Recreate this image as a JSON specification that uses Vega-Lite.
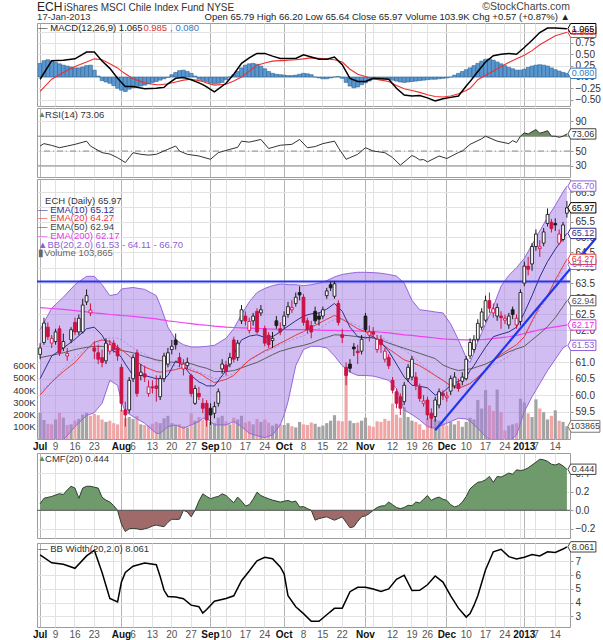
{
"$schema":"https://vega.github.io/schema/vega-lite/v6.json",
"background":"white",
"padding":{"left":12,"top":0,"right":0,"bottom":0},
"config":{"view":{"stroke":"#9c9c9c"},"font":"Liberation Sans","axis":{"labelFont":"Liberation Sans","labelFontSize":10,"labelColor":"#333333","gridColor":"#e2e2e2","domain":false,"labelOverlap":false},"text":{"font":"Liberation Sans"}},
"datasets":{
"px":[
{"d":"2012-07-02","o":61.25,"h":61.6,"l":61.1,"c":61.45,"v":215,"mh":0.3},
{"d":"2012-07-03","o":61.62,"h":62.4,"l":61.55,"c":62.23,"v":155,"mh":0.36},
{"d":"2012-07-05","o":62.1,"h":62.25,"l":61.7,"c":61.8,"v":125,"mh":0.38},
{"d":"2012-07-06","o":61.6,"h":61.85,"l":61.45,"c":61.75,"v":120,"mh":0.35},
{"d":"2012-07-09","o":61.65,"h":62.05,"l":61.55,"c":61.95,"v":160,"mh":0.32},
{"d":"2012-07-10","o":62.05,"h":62.15,"l":61.2,"c":61.3,"v":215,"mh":0.29},
{"d":"2012-07-11","o":61.45,"h":61.9,"l":61.35,"c":61.65,"v":175,"mh":0.26},
{"d":"2012-07-12","o":61.2,"h":61.45,"l":61.05,"c":61.28,"v":115,"mh":0.24},
{"d":"2012-07-13","o":61.7,"h":62.1,"l":61.6,"c":62.02,"v":120,"mh":0.22},
{"d":"2012-07-16","o":62.25,"h":62.4,"l":61.85,"c":61.95,"v":150,"mh":0.2},
{"d":"2012-07-17","o":61.95,"h":62.5,"l":61.85,"c":62.38,"v":165,"mh":0.2},
{"d":"2012-07-18","o":61.95,"h":63.0,"l":61.9,"c":62.8,"v":200,"mh":0.22},
{"d":"2012-07-19","o":62.9,"h":63.3,"l":62.8,"c":63.1,"v":215,"mh":0.25},
{"d":"2012-07-20","o":62.55,"h":62.85,"l":62.45,"c":62.64,"v":190,"mh":0.26},
{"d":"2012-07-23","o":61.45,"h":61.65,"l":61.1,"c":61.35,"v":205,"mh":0.15},
{"d":"2012-07-24","o":61.3,"h":61.55,"l":60.95,"c":61.1,"v":195,"mh":0.02},
{"d":"2012-07-25","o":61.15,"h":61.4,"l":60.85,"c":61.0,"v":160,"mh":-0.08},
{"d":"2012-07-26","o":61.05,"h":61.75,"l":60.95,"c":61.6,"v":140,"mh":-0.11},
{"d":"2012-07-27","o":61.35,"h":61.7,"l":61.25,"c":61.55,"v":150,"mh":-0.14},
{"d":"2012-07-30","o":61.6,"h":61.7,"l":61.3,"c":61.4,"v":130,"mh":-0.19},
{"d":"2012-07-31","o":61.45,"h":61.55,"l":61.05,"c":61.2,"v":120,"mh":-0.25},
{"d":"2012-08-01","o":60.85,"h":60.95,"l":59.5,"c":59.75,"v":240,"mh":-0.29},
{"d":"2012-08-02","o":59.55,"h":59.8,"l":59.05,"c":59.4,"v":170,"mh":-0.32},
{"d":"2012-08-03","o":59.55,"h":60.55,"l":59.45,"c":60.45,"v":180,"mh":-0.27},
{"d":"2012-08-06","o":60.5,"h":61.25,"l":60.4,"c":61.15,"v":165,"mh":-0.24},
{"d":"2012-08-07","o":61.3,"h":61.4,"l":59.95,"c":60.05,"v":190,"mh":-0.21},
{"d":"2012-08-08","o":60.6,"h":60.95,"l":60.45,"c":60.7,"v":120,"mh":-0.2},
{"d":"2012-08-09","o":60.65,"h":60.9,"l":60.4,"c":60.55,"v":115,"mh":-0.18},
{"d":"2012-08-10","o":60.05,"h":60.45,"l":59.95,"c":60.25,"v":110,"mh":-0.15},
{"d":"2012-08-13","o":60.25,"h":60.45,"l":60.05,"c":60.22,"v":125,"mh":-0.12},
{"d":"2012-08-14","o":60.28,"h":60.6,"l":59.8,"c":60.2,"v":140,"mh":-0.1},
{"d":"2012-08-15","o":59.95,"h":60.6,"l":59.85,"c":60.5,"v":130,"mh":-0.07},
{"d":"2012-08-16","o":60.5,"h":61.3,"l":60.4,"c":61.2,"v":170,"mh":-0.04},
{"d":"2012-08-17","o":60.95,"h":61.45,"l":60.85,"c":61.3,"v":190,"mh":-0.01},
{"d":"2012-08-20","o":61.4,"h":61.7,"l":61.25,"c":61.5,"v":130,"mh":0.05},
{"d":"2012-08-21","o":61.7,"h":61.9,"l":61.4,"c":61.55,"v":115,"mh":0.1},
{"d":"2012-08-22","o":61.15,"h":61.3,"l":60.85,"c":61.0,"v":120,"mh":0.14},
{"d":"2012-08-23","o":60.8,"h":61.1,"l":60.6,"c":60.95,"v":105,"mh":0.15},
{"d":"2012-08-24","o":60.9,"h":61.15,"l":60.8,"c":61.0,"v":95,"mh":0.12},
{"d":"2012-08-27","o":60.6,"h":60.65,"l":59.95,"c":60.05,"v":210,"mh":0.08},
{"d":"2012-08-28","o":59.75,"h":60.3,"l":59.7,"c":60.2,"v":150,"mh":0.02},
{"d":"2012-08-29","o":60.05,"h":60.25,"l":59.85,"c":59.95,"v":180,"mh":-0.05},
{"d":"2012-08-30","o":59.75,"h":59.9,"l":59.45,"c":59.6,"v":160,"mh":-0.08},
{"d":"2012-08-31","o":59.75,"h":59.85,"l":59.05,"c":59.25,"v":175,"mh":-0.1},
{"d":"2012-09-04","o":59.6,"h":59.75,"l":59.1,"c":59.4,"v":140,"mh":-0.13},
{"d":"2012-09-05","o":59.45,"h":59.8,"l":59.3,"c":59.65,"v":130,"mh":-0.15},
{"d":"2012-09-06","o":59.75,"h":60.2,"l":59.65,"c":60.1,"v":175,"mh":-0.14},
{"d":"2012-09-07","o":60.8,"h":61.1,"l":60.65,"c":60.95,"v":190,"mh":-0.12},
{"d":"2012-09-10","o":60.92,"h":61.05,"l":60.6,"c":60.72,"v":145,"mh":-0.06},
{"d":"2012-09-11","o":60.95,"h":61.3,"l":60.85,"c":61.15,"v":120,"mh":0.0},
{"d":"2012-09-12","o":61.7,"h":61.8,"l":61.0,"c":61.1,"v":175,"mh":0.05},
{"d":"2012-09-13","o":61.15,"h":61.7,"l":61.05,"c":61.6,"v":160,"mh":0.12},
{"d":"2012-09-14","o":62.3,"h":62.8,"l":62.2,"c":62.65,"v":190,"mh":0.2},
{"d":"2012-09-17","o":62.45,"h":62.6,"l":62.15,"c":62.3,"v":135,"mh":0.26},
{"d":"2012-09-18","o":62.0,"h":62.4,"l":61.9,"c":62.28,"v":145,"mh":0.29},
{"d":"2012-09-19","o":62.3,"h":62.55,"l":62.15,"c":62.45,"v":120,"mh":0.3},
{"d":"2012-09-20","o":62.6,"h":62.7,"l":61.9,"c":61.95,"v":165,"mh":0.28},
{"d":"2012-09-21","o":62.55,"h":62.8,"l":62.45,"c":62.65,"v":140,"mh":0.24},
{"d":"2012-09-24","o":62.05,"h":62.15,"l":61.5,"c":61.6,"v":160,"mh":0.18},
{"d":"2012-09-25","o":61.85,"h":61.95,"l":61.45,"c":61.55,"v":135,"mh":0.12},
{"d":"2012-09-26","o":61.68,"h":61.95,"l":61.45,"c":61.75,"v":110,"mh":0.08},
{"d":"2012-09-27","o":62.3,"h":62.45,"l":62.05,"c":62.15,"v":125,"mh":0.06},
{"d":"2012-09-28","o":62.05,"h":62.25,"l":61.85,"c":61.95,"v":120,"mh":0.05},
{"d":"2012-10-01","o":62.15,"h":62.6,"l":62.05,"c":62.45,"v":115,"mh":0.04},
{"d":"2012-10-02","o":62.5,"h":62.9,"l":62.4,"c":62.75,"v":130,"mh":0.03},
{"d":"2012-10-03","o":62.65,"h":62.95,"l":62.55,"c":62.72,"v":105,"mh":0.03},
{"d":"2012-10-04","o":62.85,"h":63.2,"l":62.75,"c":63.05,"v":95,"mh":0.04},
{"d":"2012-10-05","o":63.2,"h":63.4,"l":62.95,"c":63.12,"v":140,"mh":0.06},
{"d":"2012-10-08","o":63.05,"h":63.15,"l":62.15,"c":62.25,"v":120,"mh":0.08},
{"d":"2012-10-09","o":62.3,"h":62.4,"l":61.9,"c":62.02,"v":115,"mh":0.07},
{"d":"2012-10-10","o":62.15,"h":62.3,"l":61.75,"c":61.95,"v":135,"mh":0.05},
{"d":"2012-10-11","o":62.6,"h":62.75,"l":62.2,"c":62.3,"v":125,"mh":0.0},
{"d":"2012-10-12","o":62.45,"h":62.55,"l":62.15,"c":62.35,"v":100,"mh":-0.02},
{"d":"2012-10-15","o":62.45,"h":62.75,"l":62.35,"c":62.65,"v":110,"mh":-0.04},
{"d":"2012-10-16","o":63.1,"h":63.35,"l":63.0,"c":63.25,"v":130,"mh":-0.04},
{"d":"2012-10-17","o":63.45,"h":63.55,"l":63.25,"c":63.35,"v":150,"mh":-0.02},
{"d":"2012-10-18","o":63.08,"h":63.57,"l":63.0,"c":63.48,"v":195,"mh":0.0},
{"d":"2012-10-19","o":62.85,"h":62.95,"l":62.15,"c":62.25,"v":150,"mh":0.01},
{"d":"2012-10-22","o":61.86,"h":62.05,"l":61.6,"c":61.78,"v":145,"mh":-0.03},
{"d":"2012-10-23","o":60.85,"h":61.0,"l":60.3,"c":60.6,"v":560,"mh":-0.12},
{"d":"2012-10-24","o":60.95,"h":61.1,"l":60.7,"c":60.82,"v":150,"mh":-0.2},
{"d":"2012-10-25","o":61.48,"h":61.6,"l":61.2,"c":61.42,"v":130,"mh":-0.24},
{"d":"2012-10-26","o":61.35,"h":61.55,"l":60.95,"c":61.3,"v":135,"mh":-0.22},
{"d":"2012-10-31","o":61.35,"h":61.85,"l":61.25,"c":61.72,"v":150,"mh":-0.17},
{"d":"2012-11-01","o":62.45,"h":62.55,"l":61.95,"c":62.02,"v":175,"mh":-0.13},
{"d":"2012-11-02","o":61.85,"h":62.15,"l":61.65,"c":61.95,"v":110,"mh":-0.09},
{"d":"2012-11-05","o":61.95,"h":62.1,"l":61.75,"c":61.88,"v":100,"mh":-0.05},
{"d":"2012-11-06","o":61.4,"h":61.85,"l":61.3,"c":61.72,"v":145,"mh":-0.03},
{"d":"2012-11-07","o":61.72,"h":61.85,"l":61.3,"c":61.55,"v":140,"mh":-0.03},
{"d":"2012-11-08","o":61.1,"h":61.45,"l":61.0,"c":61.35,"v":165,"mh":-0.04},
{"d":"2012-11-09","o":61.15,"h":61.25,"l":60.8,"c":60.9,"v":150,"mh":-0.05},
{"d":"2012-11-12","o":60.45,"h":60.55,"l":60.05,"c":60.15,"v":290,"mh":-0.07},
{"d":"2012-11-13","o":60.1,"h":60.2,"l":59.6,"c":59.75,"v":200,"mh":-0.09},
{"d":"2012-11-14","o":59.95,"h":60.05,"l":59.4,"c":59.6,"v":175,"mh":-0.11},
{"d":"2012-11-15","o":59.8,"h":60.4,"l":59.7,"c":60.3,"v":260,"mh":-0.12},
{"d":"2012-11-16","o":60.5,"h":60.95,"l":60.4,"c":60.85,"v":180,"mh":-0.11},
{"d":"2012-11-19","o":60.55,"h":61.2,"l":60.45,"c":61.1,"v":150,"mh":-0.1},
{"d":"2012-11-20","o":60.55,"h":60.7,"l":60.15,"c":60.3,"v":140,"mh":-0.09},
{"d":"2012-11-21","o":60.25,"h":60.35,"l":59.8,"c":59.9,"v":120,"mh":-0.08},
{"d":"2012-11-23","o":59.75,"h":60.0,"l":59.65,"c":59.82,"v":75,"mh":-0.07},
{"d":"2012-11-26","o":59.85,"h":59.95,"l":59.25,"c":59.4,"v":170,"mh":-0.06},
{"d":"2012-11-27","o":59.45,"h":59.6,"l":59.0,"c":59.3,"v":195,"mh":-0.05},
{"d":"2012-11-28","o":59.35,"h":59.95,"l":59.2,"c":59.85,"v":160,"mh":-0.05},
{"d":"2012-11-29","o":59.7,"h":60.2,"l":59.6,"c":60.1,"v":150,"mh":-0.04},
{"d":"2012-11-30","o":60.05,"h":60.15,"l":59.85,"c":59.98,"v":130,"mh":-0.03},
{"d":"2012-12-03","o":59.92,"h":60.1,"l":59.8,"c":59.97,"v":110,"mh":-0.02},
{"d":"2012-12-04","o":60.12,"h":60.6,"l":60.0,"c":60.5,"v":140,"mh":0.0},
{"d":"2012-12-05","o":60.28,"h":60.7,"l":60.2,"c":60.55,"v":120,"mh":0.04},
{"d":"2012-12-06","o":60.35,"h":60.5,"l":60.1,"c":60.2,"v":150,"mh":0.08},
{"d":"2012-12-07","o":60.42,"h":60.7,"l":60.3,"c":60.55,"v":100,"mh":0.12},
{"d":"2012-12-10","o":60.5,"h":61.2,"l":60.45,"c":61.1,"v":140,"mh":0.16},
{"d":"2012-12-11","o":61.2,"h":61.75,"l":61.1,"c":61.62,"v":175,"mh":0.2},
{"d":"2012-12-12","o":61.4,"h":61.85,"l":61.3,"c":61.7,"v":160,"mh":0.25},
{"d":"2012-12-13","o":61.72,"h":62.35,"l":61.65,"c":62.22,"v":320,"mh":0.3},
{"d":"2012-12-14","o":62.1,"h":62.7,"l":62.0,"c":62.58,"v":250,"mh":0.35},
{"d":"2012-12-17","o":62.32,"h":63.1,"l":62.25,"c":62.94,"v":400,"mh":0.39},
{"d":"2012-12-18","o":62.94,"h":63.2,"l":62.55,"c":62.7,"v":275,"mh":0.4},
{"d":"2012-12-19","o":62.55,"h":62.85,"l":62.4,"c":62.68,"v":230,"mh":0.37},
{"d":"2012-12-20","o":62.45,"h":62.85,"l":62.3,"c":62.72,"v":405,"mh":0.33},
{"d":"2012-12-21","o":62.45,"h":62.6,"l":62.05,"c":62.4,"v":220,"mh":0.29},
{"d":"2012-12-24","o":62.32,"h":62.5,"l":62.2,"c":62.38,"v":70,"mh":0.25},
{"d":"2012-12-26","o":62.17,"h":62.55,"l":62.05,"c":62.45,"v":110,"mh":0.21},
{"d":"2012-12-27","o":62.65,"h":62.75,"l":62.35,"c":62.5,"v":120,"mh":0.18},
{"d":"2012-12-28","o":62.17,"h":62.5,"l":62.05,"c":62.38,"v":130,"mh":0.15},
{"d":"2012-12-31","o":62.28,"h":63.3,"l":62.15,"c":63.2,"v":330,"mh":0.15},
{"d":"2013-01-02","o":63.5,"h":64.2,"l":63.4,"c":64.05,"v":300,"mh":0.17},
{"d":"2013-01-03","o":64.05,"h":64.35,"l":63.75,"c":63.95,"v":210,"mh":0.21},
{"d":"2013-01-04","o":64.12,"h":64.8,"l":63.9,"c":64.69,"v":180,"mh":0.24},
{"d":"2013-01-07","o":64.69,"h":65.25,"l":64.55,"c":65.1,"v":325,"mh":0.26},
{"d":"2013-01-08","o":64.62,"h":64.9,"l":64.35,"c":64.68,"v":250,"mh":0.27},
{"d":"2013-01-09","o":64.8,"h":65.3,"l":64.7,"c":65.17,"v":220,"mh":0.26},
{"d":"2013-01-10","o":65.45,"h":65.95,"l":65.35,"c":65.75,"v":160,"mh":0.24},
{"d":"2013-01-11","o":65.49,"h":65.6,"l":65.15,"c":65.28,"v":190,"mh":0.2},
{"d":"2013-01-14","o":65.45,"h":65.62,"l":65.2,"c":65.4,"v":235,"mh":0.16},
{"d":"2013-01-15","o":64.8,"h":65.25,"l":64.75,"c":65.1,"v":150,"mh":0.13},
{"d":"2013-01-16","o":64.92,"h":65.5,"l":64.85,"c":65.4,"v":140,"mh":0.1},
{"d":"2013-01-17","o":65.79,"h":66.2,"l":65.64,"c":65.97,"v":103.865,"mh":0.08}
],
"ind":[
{"d":"2012-07-02","u":62.02,"l":57.6,"m":60.1,"w":7.47,"e10":60.5,"e20":60.0,"e50":61.15,"e200":62.72,"mc":-0.05,"sg":-0.32},
{"d":"2012-07-06","u":62.7,"l":57.95,"m":60.4,"w":6.9,"e10":61.2,"e20":60.4,"e50":61.22,"e200":62.69,"mc":0.36,"sg":-0.05},
{"d":"2012-07-11","u":63.05,"l":58.65,"m":60.8,"w":6.8,"e10":61.45,"e20":60.72,"e50":61.3,"e200":62.66,"mc":0.37,"sg":0.1},
{"d":"2012-07-16","u":63.45,"l":59.05,"m":61.15,"w":6.5,"e10":61.72,"e20":61.0,"e50":61.4,"e200":62.62,"mc":0.4,"sg":0.23},
{"d":"2012-07-19","u":63.72,"l":59.38,"m":61.45,"w":7.4,"e10":62.05,"e20":61.4,"e50":61.47,"e200":62.58,"mc":0.55,"sg":0.33},
{"d":"2012-07-23","u":63.72,"l":59.47,"m":61.55,"w":7.82,"e10":62.1,"e20":61.63,"e50":61.5,"e200":62.55,"mc":0.55,"sg":0.4},
{"d":"2012-07-25","u":63.45,"l":59.75,"m":61.7,"w":6.2,"e10":61.85,"e20":61.7,"e50":61.5,"e200":62.53,"mc":0.35,"sg":0.38},
{"d":"2012-07-27","u":63.1,"l":60.45,"m":61.77,"w":4.3,"e10":61.4,"e20":61.65,"e50":61.46,"e200":62.5,"mc":0.19,"sg":0.29},
{"d":"2012-07-31","u":63.15,"l":60.3,"m":61.75,"w":4.06,"e10":61.3,"e20":61.47,"e50":61.4,"e200":62.48,"mc":-0.03,"sg":0.2},
{"d":"2012-08-01","u":63.31,"l":59.8,"m":61.7,"w":5.5,"e10":61.15,"e20":61.4,"e50":61.37,"e200":62.47,"mc":-0.12,"sg":0.13},
{"d":"2012-08-02","u":63.33,"l":59.5,"m":61.62,"w":6.2,"e10":60.95,"e20":61.3,"e50":61.35,"e200":62.46,"mc":-0.21,"sg":0.07},
{"d":"2012-08-06","u":63.36,"l":59.35,"m":61.45,"w":6.65,"e10":60.6,"e20":61.1,"e50":61.3,"e200":62.44,"mc":-0.21,"sg":-0.04},
{"d":"2012-08-09","u":63.3,"l":59.15,"m":61.25,"w":6.88,"e10":60.6,"e20":60.86,"e50":61.18,"e200":62.4,"mc":-0.26,"sg":-0.13},
{"d":"2012-08-14","u":63.1,"l":58.85,"m":61.05,"w":6.76,"e10":60.5,"e20":60.72,"e50":61.08,"e200":62.36,"mc":-0.25,"sg":-0.17},
{"d":"2012-08-15","u":62.8,"l":58.85,"m":61.0,"w":5.9,"e10":60.5,"e20":60.7,"e50":61.06,"e200":62.34,"mc":-0.24,"sg":-0.17},
{"d":"2012-08-16","u":62.45,"l":58.95,"m":60.96,"w":4.9,"e10":60.5,"e20":60.72,"e50":61.04,"e200":62.32,"mc":-0.23,"sg":-0.16},
{"d":"2012-08-17","u":62.1,"l":59.05,"m":60.92,"w":4.45,"e10":60.6,"e20":60.74,"e50":61.02,"e200":62.3,"mc":-0.15,"sg":-0.15},
{"d":"2012-08-21","u":61.7,"l":59.1,"m":60.9,"w":4.41,"e10":61.05,"e20":60.78,"e50":61.0,"e200":62.27,"mc":-0.03,"sg":-0.11},
{"d":"2012-08-23","u":61.55,"l":59.0,"m":60.86,"w":4.29,"e10":60.9,"e20":60.85,"e50":60.98,"e200":62.24,"mc":-0.01,"sg":-0.07},
{"d":"2012-08-27","u":61.48,"l":59.1,"m":60.82,"w":3.82,"e10":60.6,"e20":60.75,"e50":60.96,"e200":62.21,"mc":-0.06,"sg":-0.05},
{"d":"2012-08-29","u":61.48,"l":59.2,"m":60.7,"w":3.71,"e10":60.4,"e20":60.67,"e50":60.88,"e200":62.18,"mc":-0.13,"sg":-0.08},
{"d":"2012-08-30","u":61.49,"l":59.3,"m":60.65,"w":3.24,"e10":60.35,"e20":60.6,"e50":60.85,"e200":62.17,"mc":-0.17,"sg":-0.1},
{"d":"2012-08-31","u":61.5,"l":59.3,"m":60.6,"w":3.5,"e10":60.28,"e20":60.52,"e50":60.82,"e200":62.16,"mc":-0.22,"sg":-0.13},
{"d":"2012-09-05","u":61.53,"l":59.1,"m":60.5,"w":4.1,"e10":60.28,"e20":60.38,"e50":60.72,"e200":62.13,"mc":-0.33,"sg":-0.18},
{"d":"2012-09-10","u":61.75,"l":59.1,"m":60.58,"w":4.3,"e10":60.75,"e20":60.48,"e50":60.72,"e200":62.1,"mc":-0.14,"sg":-0.16},
{"d":"2012-09-12","u":62.05,"l":59.2,"m":60.65,"w":4.5,"e10":61.25,"e20":60.6,"e50":60.75,"e200":62.09,"mc":0.06,"sg":-0.09},
{"d":"2012-09-14","u":62.5,"l":59.05,"m":60.9,"w":5.6,"e10":61.7,"e20":60.85,"e50":60.83,"e200":62.08,"mc":0.3,"sg":0.0},
{"d":"2012-09-18","u":62.9,"l":58.85,"m":61.05,"w":6.3,"e10":61.82,"e20":61.08,"e50":60.92,"e200":62.07,"mc":0.42,"sg":0.13},
{"d":"2012-09-20","u":63.2,"l":58.78,"m":61.2,"w":7.05,"e10":61.86,"e20":61.22,"e50":61.0,"e200":62.06,"mc":0.52,"sg":0.26},
{"d":"2012-09-24","u":63.33,"l":58.72,"m":61.33,"w":7.3,"e10":61.78,"e20":61.36,"e50":61.12,"e200":62.05,"mc":0.52,"sg":0.31},
{"d":"2012-09-26","u":63.42,"l":58.8,"m":61.42,"w":7.2,"e10":61.8,"e20":61.47,"e50":61.24,"e200":62.04,"mc":0.46,"sg":0.35},
{"d":"2012-09-28","u":63.47,"l":59.1,"m":61.55,"w":6.6,"e10":61.95,"e20":61.6,"e50":61.35,"e200":62.03,"mc":0.41,"sg":0.36},
{"d":"2012-10-01","u":63.47,"l":59.4,"m":61.6,"w":6.1,"e10":62.05,"e20":61.66,"e50":61.38,"e200":62.02,"mc":0.41,"sg":0.36},
{"d":"2012-10-02","u":63.45,"l":59.8,"m":61.65,"w":4.5,"e10":62.13,"e20":61.72,"e50":61.42,"e200":62.02,"mc":0.41,"sg":0.37},
{"d":"2012-10-04","u":63.45,"l":60.9,"m":61.75,"w":3.7,"e10":62.3,"e20":61.85,"e50":61.48,"e200":62.02,"mc":0.41,"sg":0.38},
{"d":"2012-10-08","u":63.42,"l":61.4,"m":61.83,"w":3.2,"e10":62.45,"e20":61.96,"e50":61.53,"e200":62.02,"mc":0.49,"sg":0.4},
{"d":"2012-10-10","u":63.45,"l":61.5,"m":61.95,"w":2.65,"e10":62.52,"e20":62.1,"e50":61.6,"e200":62.02,"mc":0.44,"sg":0.42},
{"d":"2012-10-12","u":63.5,"l":61.5,"m":62.05,"w":2.65,"e10":62.55,"e20":62.22,"e50":61.7,"e200":62.01,"mc":0.39,"sg":0.41},
{"d":"2012-10-16","u":63.58,"l":61.45,"m":62.2,"w":3.12,"e10":62.67,"e20":62.35,"e50":61.78,"e200":62.0,"mc":0.39,"sg":0.4},
{"d":"2012-10-18","u":63.7,"l":61.2,"m":62.35,"w":3.59,"e10":62.85,"e20":62.47,"e50":61.86,"e200":62.0,"mc":0.44,"sg":0.38},
{"d":"2012-10-22","u":63.78,"l":60.9,"m":62.35,"w":3.6,"e10":62.6,"e20":62.35,"e50":61.85,"e200":61.99,"mc":0.27,"sg":0.33},
{"d":"2012-10-24","u":63.82,"l":60.7,"m":62.25,"w":4.8,"e10":62.1,"e20":62.2,"e50":61.83,"e200":61.99,"mc":-0.03,"sg":0.17},
{"d":"2012-10-26","u":63.85,"l":60.6,"m":62.15,"w":5.12,"e10":61.8,"e20":62.05,"e50":61.8,"e200":61.98,"mc":-0.1,"sg":0.06},
{"d":"2012-11-01","u":63.85,"l":60.6,"m":62.0,"w":5.12,"e10":61.76,"e20":61.96,"e50":61.78,"e200":61.97,"mc":-0.1,"sg":0.01},
{"d":"2012-11-05","u":63.84,"l":60.58,"m":61.9,"w":5.0,"e10":61.8,"e20":61.8,"e50":61.76,"e200":61.96,"mc":-0.03,"sg":-0.04},
{"d":"2012-11-07","u":63.82,"l":60.52,"m":61.78,"w":4.82,"e10":61.62,"e20":61.6,"e50":61.7,"e200":61.94,"mc":-0.04,"sg":-0.07},
{"d":"2012-11-09","u":63.78,"l":60.45,"m":61.66,"w":5.0,"e10":61.35,"e20":61.42,"e50":61.6,"e200":61.92,"mc":-0.05,"sg":-0.1},
{"d":"2012-11-13","u":63.73,"l":60.2,"m":61.5,"w":5.7,"e10":60.95,"e20":61.25,"e50":61.52,"e200":61.89,"mc":-0.25,"sg":-0.19},
{"d":"2012-11-15","u":63.5,"l":59.55,"m":61.4,"w":6.0,"e10":60.55,"e20":61.08,"e50":61.44,"e200":61.86,"mc":-0.4,"sg":-0.26},
{"d":"2012-11-19","u":62.95,"l":59.41,"m":61.2,"w":4.88,"e10":60.3,"e20":61.0,"e50":61.36,"e200":61.84,"mc":-0.42,"sg":-0.3},
{"d":"2012-11-21","u":62.65,"l":59.25,"m":61.0,"w":4.9,"e10":60.27,"e20":60.9,"e50":61.28,"e200":61.81,"mc":-0.41,"sg":-0.34},
{"d":"2012-11-26","u":62.62,"l":59.05,"m":60.8,"w":5.3,"e10":60.22,"e20":60.75,"e50":61.2,"e200":61.79,"mc":-0.46,"sg":-0.39},
{"d":"2012-11-28","u":62.58,"l":59.0,"m":60.6,"w":5.94,"e10":60.0,"e20":60.6,"e50":61.12,"e200":61.76,"mc":-0.53,"sg":-0.43},
{"d":"2012-11-30","u":62.55,"l":59.1,"m":60.45,"w":5.5,"e10":60.08,"e20":60.45,"e50":60.92,"e200":61.73,"mc":-0.48,"sg":-0.44},
{"d":"2012-12-04","u":62.2,"l":59.2,"m":60.3,"w":4.5,"e10":60.3,"e20":60.28,"e50":60.82,"e200":61.72,"mc":-0.45,"sg":-0.42},
{"d":"2012-12-06","u":61.7,"l":59.3,"m":60.25,"w":3.6,"e10":60.42,"e20":60.2,"e50":60.75,"e200":61.71,"mc":-0.42,"sg":-0.37},
{"d":"2012-12-10","u":61.15,"l":59.28,"m":60.3,"w":2.95,"e10":60.55,"e20":60.3,"e50":60.78,"e200":61.7,"mc":-0.2,"sg":-0.3},
{"d":"2012-12-11","u":61.0,"l":59.22,"m":60.37,"w":3.2,"e10":60.75,"e20":60.35,"e50":60.8,"e200":61.7,"mc":-0.1,"sg":-0.25},
{"d":"2012-12-12","u":61.3,"l":59.1,"m":60.45,"w":3.8,"e10":60.9,"e20":60.45,"e50":60.83,"e200":61.7,"mc":0.01,"sg":-0.16},
{"d":"2012-12-13","u":61.65,"l":59.0,"m":60.52,"w":4.5,"e10":61.1,"e20":60.55,"e50":60.87,"e200":61.71,"mc":0.12,"sg":-0.06},
{"d":"2012-12-17","u":62.2,"l":58.75,"m":60.72,"w":6.4,"e10":61.47,"e20":60.78,"e50":60.95,"e200":61.72,"mc":0.33,"sg":0.04},
{"d":"2012-12-19","u":62.75,"l":58.6,"m":60.92,"w":7.7,"e10":61.8,"e20":61.05,"e50":61.07,"e200":61.74,"mc":0.47,"sg":0.13},
{"d":"2012-12-21","u":63.4,"l":58.55,"m":61.05,"w":7.88,"e10":61.88,"e20":61.25,"e50":61.2,"e200":61.77,"mc":0.5,"sg":0.23},
{"d":"2012-12-26","u":63.75,"l":58.6,"m":61.2,"w":7.35,"e10":61.95,"e20":61.4,"e50":61.33,"e200":61.8,"mc":0.52,"sg":0.32},
{"d":"2012-12-28","u":64.0,"l":58.8,"m":61.45,"w":7.17,"e10":62.1,"e20":61.55,"e50":61.42,"e200":61.84,"mc":0.5,"sg":0.4},
{"d":"2013-01-02","u":64.3,"l":59.5,"m":61.8,"w":7.3,"e10":62.55,"e20":61.8,"e50":61.5,"e200":61.9,"mc":0.65,"sg":0.48},
{"d":"2013-01-04","u":64.75,"l":59.95,"m":62.25,"w":7.5,"e10":63.1,"e20":62.3,"e50":61.7,"e200":61.96,"mc":0.81,"sg":0.58},
{"d":"2013-01-08","u":65.2,"l":60.35,"m":62.65,"w":7.4,"e10":63.7,"e20":62.75,"e50":61.9,"e200":62.02,"mc":0.98,"sg":0.71},
{"d":"2013-01-10","u":65.65,"l":60.75,"m":63.05,"w":7.7,"e10":64.2,"e20":63.1,"e50":62.12,"e200":62.07,"mc":1.08,"sg":0.81},
{"d":"2013-01-14","u":66.05,"l":61.1,"m":63.5,"w":7.65,"e10":64.6,"e20":63.6,"e50":62.4,"e200":62.11,"mc":1.08,"sg":0.91},
{"d":"2013-01-16","u":66.5,"l":61.45,"m":63.95,"w":7.9,"e10":64.95,"e20":64.05,"e50":62.75,"e200":62.15,"mc":1.07,"sg":0.96},
{"d":"2013-01-17","u":66.7,"l":61.53,"m":64.11,"w":8.061,"e10":65.12,"e20":64.27,"e50":62.94,"e200":62.17,"mc":1.065,"sg":0.985}
],
"rsi":[
{"d":"2012-07-02","r":56.7},{"d":"2012-07-03","r":60},{"d":"2012-07-06","r":57.6},{"d":"2012-07-10","r":54.5},{"d":"2012-07-12","r":56.7},{"d":"2012-07-16","r":59},{"d":"2012-07-19","r":63.3},{"d":"2012-07-20","r":56.7},{"d":"2012-07-25","r":47.8},{"d":"2012-07-27","r":46},{"d":"2012-07-31","r":41},{"d":"2012-08-02","r":34.5},{"d":"2012-08-06","r":47.8},{"d":"2012-08-08","r":45.6},{"d":"2012-08-10","r":44.5},{"d":"2012-08-14","r":45.6},{"d":"2012-08-17","r":52.3},{"d":"2012-08-21","r":56.7},{"d":"2012-08-22","r":50},{"d":"2012-08-24","r":45.6},{"d":"2012-08-29","r":43.3},{"d":"2012-09-04","r":38.9},{"d":"2012-09-06","r":47.8},{"d":"2012-09-11","r":52.3},{"d":"2012-09-13","r":55},{"d":"2012-09-14","r":63.3},{"d":"2012-09-18","r":62},{"d":"2012-09-21","r":65.6},{"d":"2012-09-25","r":53.4},{"d":"2012-09-28","r":57.8},{"d":"2012-10-03","r":59},{"d":"2012-10-05","r":65.6},{"d":"2012-10-09","r":54.5},{"d":"2012-10-11","r":56},{"d":"2012-10-15","r":60},{"d":"2012-10-18","r":63.3},{"d":"2012-10-19","r":54.5},{"d":"2012-10-23","r":38.9},{"d":"2012-10-26","r":45.6},{"d":"2012-11-01","r":54.5},{"d":"2012-11-05","r":50},{"d":"2012-11-08","r":47.8},{"d":"2012-11-12","r":41.2},{"d":"2012-11-14","r":30.9},{"d":"2012-11-19","r":44},{"d":"2012-11-20","r":41.5},{"d":"2012-11-21","r":38},{"d":"2012-11-23","r":38.5},{"d":"2012-11-26","r":35.4},{"d":"2012-11-29","r":43.3},{"d":"2012-12-03","r":39.9},{"d":"2012-12-06","r":48},{"d":"2012-12-07","r":50},{"d":"2012-12-11","r":59},{"d":"2012-12-14","r":66.5},{"d":"2012-12-17","r":70},{"d":"2012-12-20","r":63.3},{"d":"2012-12-26","r":60},{"d":"2012-12-27","r":64},{"d":"2012-12-28","r":61.5},{"d":"2012-12-31","r":70},{"d":"2013-01-02","r":74.5},{"d":"2013-01-03","r":73},{"d":"2013-01-04","r":76},{"d":"2013-01-07","r":78.9},{"d":"2013-01-08","r":74},{"d":"2013-01-09","r":75.5},{"d":"2013-01-10","r":77.4},{"d":"2013-01-11","r":70},{"d":"2013-01-14","r":70},{"d":"2013-01-15","r":68.5},{"d":"2013-01-16","r":70},{"d":"2013-01-17","r":73.06}
],
"cmf":[
{"d":"2012-07-02","f":0.07},{"d":"2012-07-03","f":0.13},{"d":"2012-07-06","f":0.15},{"d":"2012-07-10","f":0.18},{"d":"2012-07-11","f":0.17},{"d":"2012-07-12","f":0.22},{"d":"2012-07-13","f":0.26},{"d":"2012-07-16","f":0.24},{"d":"2012-07-17","f":0.13},{"d":"2012-07-18","f":0.24},{"d":"2012-07-19","f":0.26},{"d":"2012-07-20","f":0.26},{"d":"2012-07-23","f":0.25},{"d":"2012-07-24","f":0.24},{"d":"2012-07-25","f":0.14},{"d":"2012-07-26","f":0.11},{"d":"2012-07-27","f":0.09},{"d":"2012-07-30","f":0.05},{"d":"2012-07-31","f":0},
{"d":"2012-08-01","f":-0.15},{"d":"2012-08-02","f":-0.23},{"d":"2012-08-03","f":-0.2},{"d":"2012-08-06","f":-0.196},{"d":"2012-08-07","f":-0.2},{"d":"2012-08-08","f":-0.21},{"d":"2012-08-09","f":-0.2},{"d":"2012-08-10","f":-0.19},{"d":"2012-08-13","f":-0.17},{"d":"2012-08-14","f":-0.16},{"d":"2012-08-15","f":-0.17},{"d":"2012-08-16","f":-0.178},{"d":"2012-08-17","f":-0.13},{"d":"2012-08-20","f":-0.096},{"d":"2012-08-21","f":-0.1},{"d":"2012-08-22","f":-0.096},{"d":"2012-08-23","f":0},{"d":"2012-08-24","f":-0.018},{"d":"2012-08-27","f":-0.071},{"d":"2012-08-28","f":0},
{"d":"2012-08-29","f":0.1},{"d":"2012-08-30","f":0.178},{"d":"2012-08-31","f":0.15},{"d":"2012-09-04","f":0.125},{"d":"2012-09-05","f":0.14},{"d":"2012-09-06","f":0.15},{"d":"2012-09-07","f":0.178},{"d":"2012-09-10","f":0.16},{"d":"2012-09-11","f":0.12},{"d":"2012-09-12","f":0.082},{"d":"2012-09-13","f":0.143},{"d":"2012-09-14","f":0.1},{"d":"2012-09-17","f":0.046},{"d":"2012-09-18","f":0.06},{"d":"2012-09-19","f":0.12},{"d":"2012-09-20","f":0.196},{"d":"2012-09-21","f":0.16},{"d":"2012-09-24","f":0.14},{"d":"2012-09-25","f":0.125},{"d":"2012-09-26","f":0.11},{"d":"2012-09-28","f":0.089},{"d":"2012-10-02","f":0.107},{"d":"2012-10-03","f":0.09},{"d":"2012-10-04","f":0.1},{"d":"2012-10-05","f":0.036},{"d":"2012-10-08","f":0.04},{"d":"2012-10-09","f":0.018},{"d":"2012-10-10","f":0},
{"d":"2012-10-11","f":-0.107},{"d":"2012-10-12","f":-0.09},{"d":"2012-10-15","f":-0.08},{"d":"2012-10-16","f":-0.071},{"d":"2012-10-17","f":-0.09},{"d":"2012-10-18","f":-0.107},{"d":"2012-10-19","f":-0.09},{"d":"2012-10-22","f":-0.071},{"d":"2012-10-23","f":-0.13},{"d":"2012-10-24","f":-0.189},{"d":"2012-10-25","f":-0.178},{"d":"2012-10-26","f":-0.12},{"d":"2012-10-31","f":-0.071},{"d":"2012-11-01","f":-0.06},{"d":"2012-11-02","f":-0.036},{"d":"2012-11-05","f":0},
{"d":"2012-11-06","f":0.03},{"d":"2012-11-07","f":0.046},{"d":"2012-11-08","f":0.05},{"d":"2012-11-09","f":0.089},{"d":"2012-11-12","f":0.06},{"d":"2012-11-13","f":0.03},{"d":"2012-11-14","f":0.018},{"d":"2012-11-15","f":0.03},{"d":"2012-11-16","f":0.054},{"d":"2012-11-19","f":0.05},{"d":"2012-11-20","f":0.089},{"d":"2012-11-21","f":0.08},{"d":"2012-11-23","f":0.12},{"d":"2012-11-26","f":0.16},{"d":"2012-11-27","f":0.107},{"d":"2012-11-28","f":0.13},{"d":"2012-11-29","f":0.143},{"d":"2012-11-30","f":0.12},{"d":"2012-12-03","f":0.107},{"d":"2012-12-04","f":0.06},{"d":"2012-12-05","f":0.036},{"d":"2012-12-06","f":0.05},{"d":"2012-12-07","f":0.089},{"d":"2012-12-10","f":0.15},{"d":"2012-12-11","f":0.232},{"d":"2012-12-12","f":0.27},{"d":"2012-12-13","f":0.303},{"d":"2012-12-14","f":0.31},{"d":"2012-12-17","f":0.33},{"d":"2012-12-18","f":0.367},{"d":"2012-12-19","f":0.303},{"d":"2012-12-20","f":0.367},{"d":"2012-12-21","f":0.36},{"d":"2012-12-24","f":0.38},{"d":"2012-12-26","f":0.403},{"d":"2012-12-27","f":0.39},{"d":"2012-12-28","f":0.438},{"d":"2012-12-31","f":0.43},{"d":"2013-01-02","f":0.438},{"d":"2013-01-03","f":0.46},{"d":"2013-01-04","f":0.49},{"d":"2013-01-07","f":0.52},{"d":"2013-01-08","f":0.553},{"d":"2013-01-09","f":0.546},{"d":"2013-01-10","f":0.53},{"d":"2013-01-11","f":0.499},{"d":"2013-01-14","f":0.49},{"d":"2013-01-15","f":0.506},{"d":"2013-01-16","f":0.48},{"d":"2013-01-17","f":0.444}
]
},
"spacing":0,
"resolve":{"scale":{"x":"shared"}},
"vconcat":[
{"width":533,"height":83,"resolve":{"scale":{"y":"independent"},"axis":{"y":"independent"}},"layer":[
{"data":{"name":"px"},"mark":{"type":"bar","width":{"band":1},"fill":"#5a97cf","stroke":"#2f6493","strokeWidth":0.6},
"encoding":{"x":{"field":"d","type":"ordinal","title":null,"scale":{"type":"band","paddingInner":0,"paddingOuter":0.3},"axis":{"values":["2012-07-02","2012-07-09","2012-07-16","2012-07-23","2012-07-30","2012-08-01","2012-08-06","2012-08-13","2012-08-20","2012-08-27","2012-09-04","2012-09-10","2012-09-17","2012-09-24","2012-10-01","2012-10-08","2012-10-15","2012-10-22","2012-11-01","2012-11-05","2012-11-12","2012-11-19","2012-11-26","2012-12-03","2012-12-10","2012-12-17","2012-12-24","2012-12-31","2013-01-02","2013-01-07","2013-01-14"],"labels":false,"ticks":false,"grid":true,"bandPosition":0.5,"gridColor":{"condition":{"test":"parseInt(substring(datum.value,8,10)) <= 4","value":"#b4b4b4"},"value":"#e2e2e2"}}},
"y":{"field":"mh","type":"quantitative","title":null,"scale":{"domain":[-0.64,1.19],"nice":false,"zero":false},"axis":{"orient":"right","values":[-0.5,-0.25,0,0.25,0.5,0.75,1],"format":".2f","grid":true,"labelPadding":2,"labelOverlap":false,"labelBound":false,"ticks":true,"tickSize":3,"tickColor":"#999999"}}}},
{"data":{"name":"ind"},"mark":{"type":"line","color":"#ee3030","strokeWidth":1.1},"encoding":{"x":{"field":"d","type":"ordinal","title":null},"y":{"field":"sg","type":"quantitative","title":null,"scale":{"domain":[-0.64,1.19],"nice":false,"zero":false},"axis":null}}},
{"data":{"name":"ind"},"mark":{"type":"line","color":"#000000","strokeWidth":1.5},"encoding":{"x":{"field":"d","type":"ordinal","title":null},"y":{"field":"mc","type":"quantitative","title":null,"scale":{"domain":[-0.64,1.19],"nice":false,"zero":false},"axis":null}}},
{"data":{"values":[{}]},"mark":{"type":"text","text":"ECH","align":"left","baseline":"middle","dx":-3,"dy":-16,"fontSize":12,"color":"#222222"},"encoding":{"x":{"datum":"2012-07-02","type":"ordinal"},"y":{"datum":1.19,"type":"quantitative","scale":{"domain":[-0.64,1.19],"nice":false,"zero":false},"axis":null}}},
{"data":{"values":[{}]},"mark":{"type":"text","text":"iShares MSCI Chile Index Fund NYSE","align":"left","baseline":"middle","dx":24,"dy":-15,"fontSize":10,"color":"#333333"},"encoding":{"x":{"datum":"2012-07-02","type":"ordinal"},"y":{"datum":1.19,"type":"quantitative","scale":{"domain":[-0.64,1.19],"nice":false,"zero":false},"axis":null}}},
{"data":{"values":[{}]},"mark":{"type":"text","text":"17-Jan-2013","align":"left","baseline":"middle","dx":-3,"dy":-6,"fontSize":9.5,"color":"#333333"},"encoding":{"x":{"datum":"2012-07-02","type":"ordinal"},"y":{"datum":1.19,"type":"quantitative","scale":{"domain":[-0.64,1.19],"nice":false,"zero":false},"axis":null}}},
{"data":{"values":[{}]},"mark":{"type":"text","text":"©StockCharts.com","align":"right","baseline":"middle","dx":3,"dy":-16,"fontSize":10.5,"color":"#444444"},"encoding":{"x":{"datum":"2013-01-17","type":"ordinal"},"y":{"datum":1.19,"type":"quantitative","scale":{"domain":[-0.64,1.19],"nice":false,"zero":false},"axis":null}}},
{"data":{"values":[{}]},"mark":{"type":"text","text":"Open 65.79  High 66.20  Low 65.64  Close 65.97  Volume 103.9K  Chg +0.57 (+0.87%) ▲","align":"right","baseline":"middle","dx":3,"dy":-6,"fontSize":9.5,"color":"#222222"},"encoding":{"x":{"datum":"2013-01-17","type":"ordinal"},"y":{"datum":1.19,"type":"quantitative","scale":{"domain":[-0.64,1.19],"nice":false,"zero":false},"axis":null}}},
{"data":{"values":[{}]},"mark":{"type":"text","text":"— MACD(12,26,9) 1.065","align":"left","baseline":"middle","dx":-2,"dy":5,"fontSize":9.5,"color":"#222222"},"encoding":{"x":{"datum":"2012-07-02","type":"ordinal"},"y":{"datum":1.19,"type":"quantitative","scale":{"domain":[-0.64,1.19],"nice":false,"zero":false},"axis":null}}},
{"data":{"values":[{}]},"mark":{"type":"text","text":", 0.985","align":"left","baseline":"middle","dx":98,"dy":5,"fontSize":9.5,"color":"#e33333"},"encoding":{"x":{"datum":"2012-07-02","type":"ordinal"},"y":{"datum":1.19,"type":"quantitative","scale":{"domain":[-0.64,1.19],"nice":false,"zero":false},"axis":null}}},
{"data":{"values":[{}]},"mark":{"type":"text","text":", 0.080","align":"left","baseline":"middle","dx":130,"dy":5,"fontSize":9.5,"color":"#3a78b8"},"encoding":{"x":{"datum":"2012-07-02","type":"ordinal"},"y":{"datum":1.19,"type":"quantitative","scale":{"domain":[-0.64,1.19],"nice":false,"zero":false},"axis":null}}},
{"data":{"values":[{"t":"0.985","v":0.985,"s":"sig"},{"t":"1.065","v":1.065,"s":"macd"},{"t":"0.080","v":0.08,"s":"hist"}]},"mark":{"type":"point","shape":"M-1,0L-0.8,-0.37L1,-0.37L1,0.37L-0.8,0.37Z","size":784,"filled":true,"fill":"#ffffff","strokeWidth":1,"opacity":1,"xOffset":15},"encoding":{"x":{"datum":"2013-01-17","type":"ordinal"},"y":{"field":"v","type":"quantitative","title":null,"scale":{"domain":[-0.64,1.19],"nice":false,"zero":false},"axis":null},"stroke":{"field":"s","type":"nominal","legend":null,"scale":{"domain":["px","e10","e20","e50","e200","bb","vol","macd","sig","hist","osc"],"range":["#000000","#2c2c8f","#e23a3a","#555555","#dd33dd","#8d5fd8","#777777","#000000","#e83333","#3a78b8","#444444"]}}}},
{"data":{"values":[{"t":"0.985","v":0.985,"s":"sig"},{"t":"1.065","v":1.065,"s":"macd"},{"t":"0.080","v":0.08,"s":"hist"}]},"mark":{"type":"text","xOffset":16,"fontSize":9,"align":"center","baseline":"middle"},"encoding":{"x":{"datum":"2013-01-17","type":"ordinal"},"y":{"field":"v","type":"quantitative","title":null,"scale":{"domain":[-0.64,1.19],"nice":false,"zero":false},"axis":null},"text":{"field":"t"},"color":{"field":"s","type":"nominal","legend":null,"scale":{"domain":["px","e10","e20","e50","e200","bb","vol","macd","sig","hist","osc"],"range":["#000000","#2c2c8f","#e23a3a","#555555","#dd33dd","#8d5fd8","#777777","#000000","#e83333","#3a78b8","#444444"]}}}}
]},
{"width":533,"height":69,"resolve":{"scale":{"y":"independent"},"axis":{"y":"independent"}},"layer":[
{"data":{"values":[{}]},"mark":{"type":"rule","color":"#8c8c8c","strokeWidth":1},"encoding":{"y":{"datum":70,"type":"quantitative","scale":{"domain":[15,108],"nice":false,"zero":false},"axis":null}}},
{"data":{"values":[{}]},"mark":{"type":"rule","color":"#8c8c8c","strokeWidth":1},"encoding":{"y":{"datum":30,"type":"quantitative","scale":{"domain":[15,108],"nice":false,"zero":false},"axis":null}}},
{"data":{"values":[{}]},"mark":{"type":"rule","color":"#8c8c8c","strokeWidth":1,"strokeDash":[6,3,1,3]},"encoding":{"y":{"datum":50,"type":"quantitative","scale":{"domain":[15,108],"nice":false,"zero":false},"axis":null}}},
{"data":{"name":"rsi"},"transform":[{"filter":"datum.r >= 70"}],"mark":{"type":"area","color":"#6b8f5e"},"encoding":{"x":{"field":"d","type":"ordinal","title":null},"y":{"field":"r","type":"quantitative","title":null,"scale":{"domain":[15,108],"nice":false,"zero":false},"axis":null},"y2":{"datum":70}}},
{"data":{"name":"rsi"},"mark":{"type":"line","color":"#333333","strokeWidth":1},"encoding":{"x":{"field":"d","type":"ordinal","title":null,"scale":{"type":"band","paddingInner":0,"paddingOuter":0.3},"axis":{"values":["2012-07-02","2012-07-09","2012-07-16","2012-07-23","2012-07-30","2012-08-01","2012-08-06","2012-08-13","2012-08-20","2012-08-27","2012-09-04","2012-09-10","2012-09-17","2012-09-24","2012-10-01","2012-10-08","2012-10-15","2012-10-22","2012-11-01","2012-11-05","2012-11-12","2012-11-19","2012-11-26","2012-12-03","2012-12-10","2012-12-17","2012-12-24","2012-12-31","2013-01-02","2013-01-07","2013-01-14"],"labels":false,"ticks":false,"grid":true,"bandPosition":0.5,"gridColor":{"condition":{"test":"parseInt(substring(datum.value,8,10)) <= 4","value":"#b4b4b4"},"value":"#e2e2e2"}}},"y":{"field":"r","type":"quantitative","title":null,"scale":{"domain":[15,108],"nice":false,"zero":false},"axis":{"orient":"right","values":[30,50,70,90],"grid":true,"labelPadding":2,"labelOverlap":false,"labelBound":false,"ticks":true,"tickSize":3,"tickColor":"#999999"}}}},
{"data":{"values":[{}]},"mark":{"type":"text","text":"▲","align":"left","baseline":"middle","dx":-2,"dy":7,"fontSize":8,"color":"#5d8a50"},"encoding":{"x":{"datum":"2012-07-02","type":"ordinal"},"y":{"datum":108,"type":"quantitative","scale":{"domain":[15,108],"nice":false,"zero":false},"axis":null}}},
{"data":{"values":[{}]},"mark":{"type":"text","text":"RSI(14) 73.06","align":"left","baseline":"middle","dx":5,"dy":7,"fontSize":9.5,"color":"#333333"},"encoding":{"x":{"datum":"2012-07-02","type":"ordinal"},"y":{"datum":108,"type":"quantitative","scale":{"domain":[15,108],"nice":false,"zero":false},"axis":null}}},
{"data":{"values":[{"t":"73.06","v":73.06}]},"mark":{"type":"point","shape":"M-1,0L-0.8,-0.37L1,-0.37L1,0.37L-0.8,0.37Z","size":784,"filled":true,"fill":"#ffffff","strokeWidth":1,"opacity":1,"xOffset":15},"encoding":{"x":{"datum":"2013-01-17","type":"ordinal"},"y":{"field":"v","type":"quantitative","title":null,"scale":{"domain":[15,108],"nice":false,"zero":false},"axis":null},"stroke":{"value":"#444444"}}},
{"data":{"values":[{"t":"73.06","v":73.06}]},"mark":{"type":"text","xOffset":16,"fontSize":9,"align":"center","baseline":"middle","color":"#333333"},"encoding":{"x":{"datum":"2013-01-17","type":"ordinal"},"y":{"field":"v","type":"quantitative","title":null,"scale":{"domain":[15,108],"nice":false,"zero":false},"axis":null},"text":{"field":"t"}}}
]},
{"width":533,"height":260,"resolve":{"scale":{"y":"independent"},"axis":{"y":"independent"}},"layer":[
{"data":{"name":"px"},"transform":[{"window":[{"op":"lag","field":"c","as":"pc"}],"sort":[{"field":"d"}]}],"mark":{"type":"bar","width":{"band":0.82}},
"encoding":{"x":{"field":"d","type":"ordinal","title":null,"scale":{"type":"band","paddingInner":0,"paddingOuter":0.3},"axis":{"values":["2012-07-02","2012-07-09","2012-07-16","2012-07-23","2012-07-30","2012-08-01","2012-08-06","2012-08-13","2012-08-20","2012-08-27","2012-09-04","2012-09-10","2012-09-17","2012-09-24","2012-10-01","2012-10-08","2012-10-15","2012-10-22","2012-11-01","2012-11-05","2012-11-12","2012-11-19","2012-11-26","2012-12-03","2012-12-10","2012-12-17","2012-12-24","2012-12-31","2013-01-02","2013-01-07","2013-01-14"],"labels":true,"ticks":false,"labelAngle":0,"grid":true,"bandPosition":0.5,"gridColor":{"condition":{"test":"parseInt(substring(datum.value,8,10)) <= 4","value":"#b4b4b4"},"value":"#e2e2e2"},"labelExpr":"indexof(['2012-07-30','2012-11-05','2012-12-31'], datum.value) >= 0 ? '' : (parseInt(substring(datum.value,8,10)) <= 4 ? (substring(datum.value,0,4) == '2013' ? '2013' : ['Jan','Feb','Mar','Apr','May','Jun','Jul','Aug','Sep','Oct','Nov','Dec'][parseInt(substring(datum.value,5,7)) - 1]) : '' + parseInt(substring(datum.value,8,10)))","labelFontWeight":{"condition":{"test":"parseInt(substring(datum.value,8,10)) <= 4","value":"bold"},"value":"normal"},"labelColor":{"condition":{"test":"parseInt(substring(datum.value,8,10)) <= 4","value":"#111111"},"value":"#555555"},"labelPadding":2,"labelOverlap":false,"labelBound":false,"labelFlush":false,"labelFontSize":10}},
"y":{"field":"v","type":"quantitative","title":null,"scale":{"domain":[0,2130],"nice":false},"axis":{"orient":"left","values":[100,200,300,400,500,600],"labelExpr":"datum.value + 'K'","grid":false,"ticks":false,"labelPadding":2,"labelFontSize":9.5,"labelOverlap":false,"labelBound":false}},
"color":{"condition":{"test":"datum.pc == null || datum.c >= datum.pc","value":"#a3a3a3"},"value":"#f0a6a6"}}},
{"data":{"name":"ind"},"mark":{"type":"area","clip":true,"color":"#a67be6","opacity":0.5},"encoding":{"x":{"field":"d","type":"ordinal","title":null},"y":{"field":"u","type":"quantitative","title":null,"scale":{"type":"log","domain":[58.68,66.94],"nice":false},"axis":{"orient":"right","values":[59.5,60,60.5,61,61.5,62,62.5,63,63.5,64,64.5,65,65.5,66,66.5],"format":".1f","grid":true,"labelPadding":2,"labelOverlap":false,"labelBound":false,"ticks":true,"tickSize":3,"tickColor":"#999999"}},"y2":{"field":"l"}}},
{"data":{"name":"ind"},"mark":{"type":"line","clip":true,"color":"#9466dc","strokeWidth":1},"encoding":{"x":{"field":"d","type":"ordinal","title":null},"y":{"field":"u","type":"quantitative","title":null,"scale":{"type":"log","domain":[58.68,66.94],"nice":false},"axis":null}}},
{"data":{"name":"ind"},"mark":{"type":"line","clip":true,"color":"#9466dc","strokeWidth":1},"encoding":{"x":{"field":"d","type":"ordinal","title":null},"y":{"field":"l","type":"quantitative","title":null,"scale":{"type":"log","domain":[58.68,66.94],"nice":false},"axis":null}}},
{"data":{"name":"ind"},"mark":{"type":"line","color":"#a98be8","strokeWidth":1,"strokeDash":[2,2]},"encoding":{"x":{"field":"d","type":"ordinal","title":null},"y":{"field":"m","type":"quantitative","title":null,"scale":{"type":"log","domain":[58.68,66.94],"nice":false},"axis":null}}},
{"data":{"name":"ind"},"mark":{"type":"line","color":"#f040f0","strokeWidth":1.2},"encoding":{"x":{"field":"d","type":"ordinal","title":null},"y":{"field":"e200","type":"quantitative","title":null,"scale":{"type":"log","domain":[58.68,66.94],"nice":false},"axis":null}}},
{"data":{"name":"ind"},"mark":{"type":"line","color":"#5c5c5c","strokeWidth":1},"encoding":{"x":{"field":"d","type":"ordinal","title":null},"y":{"field":"e50","type":"quantitative","title":null,"scale":{"type":"log","domain":[58.68,66.94],"nice":false},"axis":null}}},
{"data":{"name":"ind"},"mark":{"type":"line","color":"#e53a3a","strokeWidth":1},"encoding":{"x":{"field":"d","type":"ordinal","title":null},"y":{"field":"e20","type":"quantitative","title":null,"scale":{"type":"log","domain":[58.68,66.94],"nice":false},"axis":null}}},
{"data":{"name":"ind"},"mark":{"type":"line","color":"#2d2d8f","strokeWidth":1},"encoding":{"x":{"field":"d","type":"ordinal","title":null},"y":{"field":"e10","type":"quantitative","title":null,"scale":{"type":"log","domain":[58.68,66.94],"nice":false},"axis":null}}},
{"data":{"values":[{}]},"mark":{"type":"rule","color":"#2b35e8","strokeWidth":2},"encoding":{"y":{"datum":63.55,"type":"quantitative","scale":{"type":"log","domain":[58.68,66.94],"nice":false},"axis":null}}},
{"data":{"values":[{"d1":"2012-11-28","p1":58.94,"d2":"2013-01-17","p2":63.82}]},"mark":{"type":"rule","color":"#2036ee","strokeWidth":2.2,"x2Offset":29,"y2Offset":-35},"encoding":{"x":{"field":"d1","type":"ordinal","title":null},"x2":{"field":"d2"},"y":{"field":"p1","type":"quantitative","title":null,"scale":{"type":"log","domain":[58.68,66.94],"nice":false},"axis":null},"y2":{"field":"p2"}}},
{"data":{"name":"px"},"transform":[{"window":[{"op":"lag","field":"c","as":"pc"}],"sort":[{"field":"d"}]}],"mark":{"type":"rule","strokeWidth":1},"encoding":{"x":{"field":"d","type":"ordinal","title":null},"y":{"field":"l","type":"quantitative","title":null,"scale":{"type":"log","domain":[58.68,66.94],"nice":false},"axis":null},"y2":{"field":"h"},"color":{"condition":{"test":"datum.pc != null && datum.c < datum.pc","value":"#cc1144"},"value":"#1a1a1a"}}},
{"data":{"name":"px"},"transform":[{"window":[{"op":"lag","field":"c","as":"pc"}],"sort":[{"field":"d"}]}],"mark":{"type":"bar","width":{"band":0.72},"strokeWidth":0.9},"encoding":{"x":{"field":"d","type":"ordinal","title":null},"y":{"field":"o","type":"quantitative","title":null,"scale":{"type":"log","domain":[58.68,66.94],"nice":false},"axis":null},"y2":{"field":"c"},"fill":{"condition":[{"test":"datum.c > datum.o","value":"#ffffff"},{"test":"datum.pc != null && datum.c < datum.pc","value":"#cc1144"}],"value":"#1a1a1a"},"stroke":{"condition":{"test":"datum.pc != null && datum.c < datum.pc","value":"#cc1144"},"value":"#1a1a1a"}}},
{"data":{"values":[{}]},"mark":{"type":"text","text":"ECH (Daily) 65.97","align":"left","baseline":"middle","dx":5,"dy":22,"fontSize":9.5,"color":"#333333"},"encoding":{"x":{"datum":"2012-07-02","type":"ordinal"},"y":{"datum":66.94,"type":"quantitative","scale":{"type":"log","domain":[58.68,66.94],"nice":false},"axis":null}}},
{"data":{"values":[{}]},"mark":{"type":"text","text":"— EMA(10) 65.12","align":"left","baseline":"middle","dx":-2,"dy":30.7,"fontSize":9.5,"color":"#2d2d8f"},"encoding":{"x":{"datum":"2012-07-02","type":"ordinal"},"y":{"datum":66.94,"type":"quantitative","scale":{"type":"log","domain":[58.68,66.94],"nice":false},"axis":null}}},
{"data":{"values":[{}]},"mark":{"type":"text","text":"— EMA(20) 64.27","align":"left","baseline":"middle","dx":-2,"dy":39.4,"fontSize":9.5,"color":"#e53a3a"},"encoding":{"x":{"datum":"2012-07-02","type":"ordinal"},"y":{"datum":66.94,"type":"quantitative","scale":{"type":"log","domain":[58.68,66.94],"nice":false},"axis":null}}},
{"data":{"values":[{}]},"mark":{"type":"text","text":"— EMA(50) 62.94","align":"left","baseline":"middle","dx":-2,"dy":48.1,"fontSize":9.5,"color":"#444444"},"encoding":{"x":{"datum":"2012-07-02","type":"ordinal"},"y":{"datum":66.94,"type":"quantitative","scale":{"type":"log","domain":[58.68,66.94],"nice":false},"axis":null}}},
{"data":{"values":[{}]},"mark":{"type":"text","text":"— EMA(200) 62.17","align":"left","baseline":"middle","dx":-2,"dy":56.8,"fontSize":9.5,"color":"#e040e0"},"encoding":{"x":{"datum":"2012-07-02","type":"ordinal"},"y":{"datum":66.94,"type":"quantitative","scale":{"type":"log","domain":[58.68,66.94],"nice":false},"axis":null}}},
{"data":{"values":[{}]},"mark":{"type":"text","text":"▲BB(20,2.0) 61.53 - 64.11 - 66.70","align":"left","baseline":"middle","dx":-2,"dy":65.5,"fontSize":9.5,"color":"#8d5fd8"},"encoding":{"x":{"datum":"2012-07-02","type":"ordinal"},"y":{"datum":66.94,"type":"quantitative","scale":{"type":"log","domain":[58.68,66.94],"nice":false},"axis":null}}},
{"data":{"values":[{}]},"mark":{"type":"text","text":"▮Volume 103,865","align":"left","baseline":"middle","dx":-2,"dy":74.2,"fontSize":9.5,"color":"#666666"},"encoding":{"x":{"datum":"2012-07-02","type":"ordinal"},"y":{"datum":66.94,"type":"quantitative","scale":{"type":"log","domain":[58.68,66.94],"nice":false},"axis":null}}},
{"data":{"values":[{"t":"66.70","v":66.7,"s":"bb"},{"t":"65.12","v":65.12,"s":"e10"},{"t":"65.97","v":65.97,"s":"px"},{"t":"64.11","v":64.11,"s":"bb"},{"t":"64.27","v":64.27,"s":"e20"},{"t":"62.94","v":62.94,"s":"e50"},{"t":"62.17","v":62.17,"s":"e200"},{"t":"61.53","v":61.53,"s":"bb"}]},"mark":{"type":"point","shape":"M-1,0L-0.8,-0.37L1,-0.37L1,0.37L-0.8,0.37Z","size":784,"filled":true,"fill":"#ffffff","strokeWidth":1,"opacity":1,"xOffset":15},"encoding":{"x":{"datum":"2013-01-17","type":"ordinal"},"y":{"field":"v","type":"quantitative","title":null,"scale":{"type":"log","domain":[58.68,66.94],"nice":false},"axis":null},"stroke":{"field":"s","type":"nominal","legend":null,"scale":{"domain":["px","e10","e20","e50","e200","bb","vol","macd","sig","hist","osc"],"range":["#000000","#2c2c8f","#e23a3a","#555555","#dd33dd","#8d5fd8","#777777","#000000","#e83333","#3a78b8","#444444"]}}}},
{"data":{"values":[{"t":"66.70","v":66.7,"s":"bb"},{"t":"65.12","v":65.12,"s":"e10"},{"t":"65.97","v":65.97,"s":"px"},{"t":"64.11","v":64.11,"s":"bb"},{"t":"64.27","v":64.27,"s":"e20"},{"t":"62.94","v":62.94,"s":"e50"},{"t":"62.17","v":62.17,"s":"e200"},{"t":"61.53","v":61.53,"s":"bb"}]},"mark":{"type":"text","xOffset":16,"fontSize":9,"align":"center","baseline":"middle"},"encoding":{"x":{"datum":"2013-01-17","type":"ordinal"},"y":{"field":"v","type":"quantitative","title":null,"scale":{"type":"log","domain":[58.68,66.94],"nice":false},"axis":null},"text":{"field":"t"},"color":{"field":"s","type":"nominal","legend":null,"scale":{"domain":["px","e10","e20","e50","e200","bb","vol","macd","sig","hist","osc"],"range":["#000000","#2c2c8f","#e23a3a","#555555","#dd33dd","#8d5fd8","#777777","#000000","#e83333","#3a78b8","#444444"]}}}},
{"data":{"values":[{"t":"103865","v":103.865}]},"mark":{"type":"point","shape":"M-1,0L-0.8,-0.37L1,-0.37L1,0.37L-0.8,0.37Z","size":1024,"filled":true,"fill":"#ffffff","strokeWidth":1,"opacity":1,"xOffset":17},"encoding":{"x":{"datum":"2013-01-17","type":"ordinal"},"y":{"field":"v","type":"quantitative","title":null,"scale":{"domain":[0,2130],"nice":false},"axis":null},"stroke":{"value":"#777777"}}},
{"data":{"values":[{"t":"103865","v":103.865}]},"mark":{"type":"text","xOffset":18,"fontSize":9,"align":"center","baseline":"middle","color":"#444444"},"encoding":{"x":{"datum":"2013-01-17","type":"ordinal"},"y":{"field":"v","type":"quantitative","title":null,"scale":{"domain":[0,2130],"nice":false},"axis":null},"text":{"field":"t"}}}
]},
{"width":533,"height":85,"resolve":{"scale":{"y":"independent"},"axis":{"y":"independent"}},"layer":[
{"data":{"name":"cmf"},"transform":[{"filter":"datum.f >= 0"}],"mark":{"type":"area","color":"#6e9a6c"},"encoding":{"x":{"field":"d","type":"ordinal","title":null,"scale":{"type":"band","paddingInner":0,"paddingOuter":0.3},"axis":{"values":["2012-07-02","2012-07-09","2012-07-16","2012-07-23","2012-07-30","2012-08-01","2012-08-06","2012-08-13","2012-08-20","2012-08-27","2012-09-04","2012-09-10","2012-09-17","2012-09-24","2012-10-01","2012-10-08","2012-10-15","2012-10-22","2012-11-01","2012-11-05","2012-11-12","2012-11-19","2012-11-26","2012-12-03","2012-12-10","2012-12-17","2012-12-24","2012-12-31","2013-01-02","2013-01-07","2013-01-14"],"labels":false,"ticks":false,"grid":true,"bandPosition":0.5,"gridColor":{"condition":{"test":"parseInt(substring(datum.value,8,10)) <= 4","value":"#b4b4b4"},"value":"#e2e2e2"}}},"y":{"field":"f","type":"quantitative","title":null,"scale":{"domain":[-0.3,0.62],"nice":false,"zero":false},"axis":{"orient":"right","values":[-0.2,0,0.2,0.4],"format":".1f","grid":true,"labelPadding":2,"labelOverlap":false,"labelBound":false,"ticks":true,"tickSize":3,"tickColor":"#999999"}},"y2":{"datum":0}}},
{"data":{"name":"cmf"},"transform":[{"filter":"datum.f <= 0"}],"mark":{"type":"area","color":"#a06a6a"},"encoding":{"x":{"field":"d","type":"ordinal","title":null},"y":{"field":"f","type":"quantitative","title":null,"scale":{"domain":[-0.3,0.62],"nice":false,"zero":false},"axis":null},"y2":{"datum":0}}},
{"data":{"name":"cmf"},"mark":{"type":"line","color":"#2f3f2f","strokeWidth":1},"encoding":{"x":{"field":"d","type":"ordinal","title":null},"y":{"field":"f","type":"quantitative","title":null,"scale":{"domain":[-0.3,0.62],"nice":false,"zero":false},"axis":null}}},
{"data":{"values":[{}]},"mark":{"type":"rule","color":"#555555","strokeWidth":1},"encoding":{"y":{"datum":0,"type":"quantitative","scale":{"domain":[-0.3,0.62],"nice":false,"zero":false},"axis":null}}},
{"data":{"values":[{}]},"mark":{"type":"text","text":"▲","align":"left","baseline":"middle","dx":-2,"dy":5.5,"fontSize":8,"color":"#5d8a50"},"encoding":{"x":{"datum":"2012-07-02","type":"ordinal"},"y":{"datum":0.62,"type":"quantitative","scale":{"domain":[-0.3,0.62],"nice":false,"zero":false},"axis":null}}},
{"data":{"values":[{}]},"mark":{"type":"text","text":"CMF(20) 0.444","align":"left","baseline":"middle","dx":5,"dy":5.5,"fontSize":9.5,"color":"#333333"},"encoding":{"x":{"datum":"2012-07-02","type":"ordinal"},"y":{"datum":0.62,"type":"quantitative","scale":{"domain":[-0.3,0.62],"nice":false,"zero":false},"axis":null}}},
{"data":{"values":[{"t":"0.444","v":0.444}]},"mark":{"type":"point","shape":"M-1,0L-0.8,-0.37L1,-0.37L1,0.37L-0.8,0.37Z","size":784,"filled":true,"fill":"#ffffff","strokeWidth":1,"opacity":1,"xOffset":15},"encoding":{"x":{"datum":"2013-01-17","type":"ordinal"},"y":{"field":"v","type":"quantitative","title":null,"scale":{"domain":[-0.3,0.62],"nice":false,"zero":false},"axis":null},"stroke":{"value":"#444444"}}},
{"data":{"values":[{"t":"0.444","v":0.444}]},"mark":{"type":"text","xOffset":16,"fontSize":9,"align":"center","baseline":"middle","color":"#333333"},"encoding":{"x":{"datum":"2013-01-17","type":"ordinal"},"y":{"field":"v","type":"quantitative","title":null,"scale":{"domain":[-0.3,0.62],"nice":false,"zero":false},"axis":null},"text":{"field":"t"}}}
]},
{"width":533,"height":84,"resolve":{"scale":{"y":"independent"},"axis":{"y":"independent"}},"layer":[
{"data":{"name":"ind"},"mark":{"type":"line","color":"#000000","strokeWidth":1.5},"encoding":{"x":{"field":"d","type":"ordinal","title":null,"scale":{"type":"band","paddingInner":0,"paddingOuter":0.3},"axis":{"values":["2012-07-02","2012-07-09","2012-07-16","2012-07-23","2012-07-30","2012-08-01","2012-08-06","2012-08-13","2012-08-20","2012-08-27","2012-09-04","2012-09-10","2012-09-17","2012-09-24","2012-10-01","2012-10-08","2012-10-15","2012-10-22","2012-11-01","2012-11-05","2012-11-12","2012-11-19","2012-11-26","2012-12-03","2012-12-10","2012-12-17","2012-12-24","2012-12-31","2013-01-02","2013-01-07","2013-01-14"],"labels":true,"ticks":false,"labelAngle":0,"grid":true,"bandPosition":0.5,"gridColor":{"condition":{"test":"parseInt(substring(datum.value,8,10)) <= 4","value":"#b4b4b4"},"value":"#e2e2e2"},"labelExpr":"indexof(['2012-07-30','2012-11-05','2012-12-31'], datum.value) >= 0 ? '' : (parseInt(substring(datum.value,8,10)) <= 4 ? (substring(datum.value,0,4) == '2013' ? '2013' : ['Jan','Feb','Mar','Apr','May','Jun','Jul','Aug','Sep','Oct','Nov','Dec'][parseInt(substring(datum.value,5,7)) - 1]) : '' + parseInt(substring(datum.value,8,10)))","labelFontWeight":{"condition":{"test":"parseInt(substring(datum.value,8,10)) <= 4","value":"bold"},"value":"normal"},"labelColor":{"condition":{"test":"parseInt(substring(datum.value,8,10)) <= 4","value":"#111111"},"value":"#555555"},"labelPadding":2,"labelOverlap":false,"labelBound":false,"labelFlush":false,"labelFontSize":10}},"y":{"field":"w","type":"quantitative","title":null,"scale":{"domain":[2.23,8.34],"nice":false,"zero":false},"axis":{"orient":"right","values":[3,4,5,6,7],"format":"d","grid":true,"labelPadding":2,"labelOverlap":false,"labelBound":false,"ticks":true,"tickSize":3,"tickColor":"#999999"}}}},
{"data":{"values":[{}]},"mark":{"type":"text","text":"— BB Width(20,2.0) 8.061","align":"left","baseline":"middle","dx":-2,"dy":6,"fontSize":9.5,"color":"#333333"},"encoding":{"x":{"datum":"2012-07-02","type":"ordinal"},"y":{"datum":8.34,"type":"quantitative","scale":{"domain":[2.23,8.34],"nice":false,"zero":false},"axis":null}}},
{"data":{"values":[{"t":"8.061","v":8.061}]},"mark":{"type":"point","shape":"M-1,0L-0.8,-0.37L1,-0.37L1,0.37L-0.8,0.37Z","size":784,"filled":true,"fill":"#ffffff","strokeWidth":1,"opacity":1,"xOffset":15},"encoding":{"x":{"datum":"2013-01-17","type":"ordinal"},"y":{"field":"v","type":"quantitative","title":null,"scale":{"domain":[2.23,8.34],"nice":false,"zero":false},"axis":null},"stroke":{"value":"#444444"}}},
{"data":{"values":[{"t":"8.061","v":8.061}]},"mark":{"type":"text","xOffset":16,"fontSize":9,"align":"center","baseline":"middle","color":"#333333"},"encoding":{"x":{"datum":"2013-01-17","type":"ordinal"},"y":{"field":"v","type":"quantitative","title":null,"scale":{"domain":[2.23,8.34],"nice":false,"zero":false},"axis":null},"text":{"field":"t"}}}
]}
]
}
